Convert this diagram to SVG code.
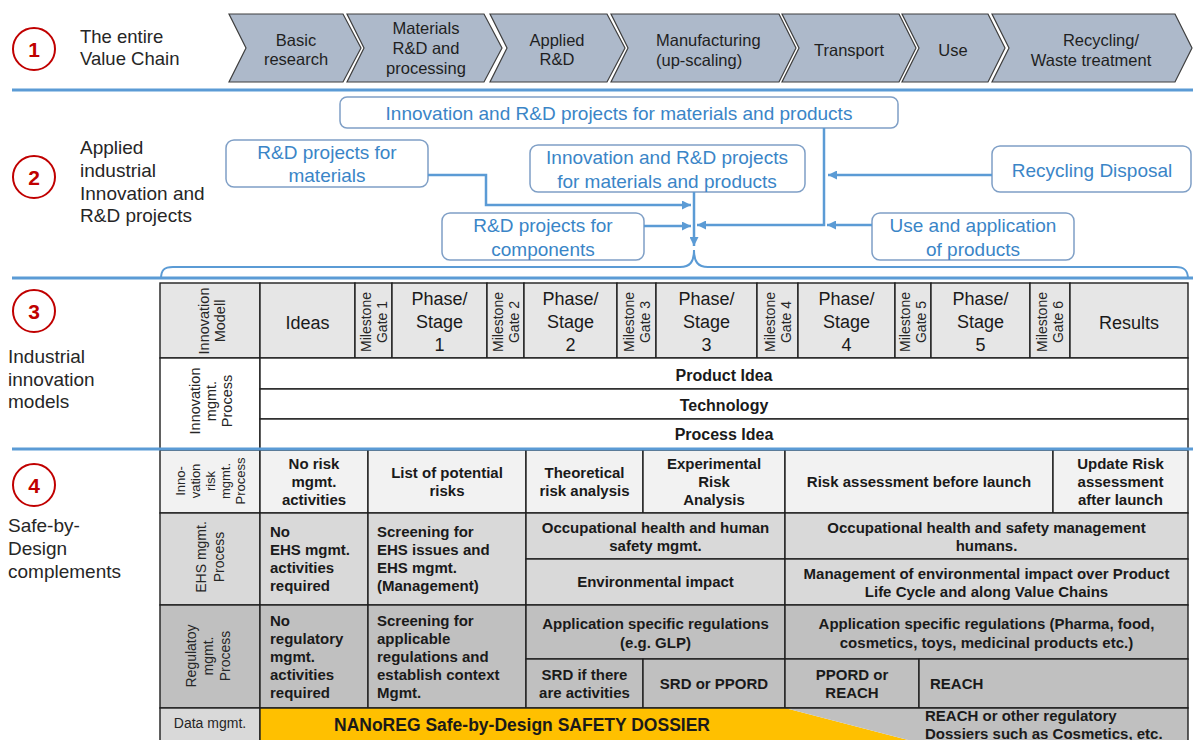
<svg xmlns="http://www.w3.org/2000/svg" width="1193" height="740" viewBox="0 0 1193 740">
<defs>
<style>
text{font-family:"Liberation Sans",Arial,Helvetica,sans-serif}
.sep{stroke:#5b9bd5;stroke-width:3;fill:none}
.chev{fill:#adb9ca;stroke:#3f3f3f;stroke-width:1.2}
.ct{font-size:16.5px;fill:#1f1f1f;text-anchor:middle}
.lbl{font-size:19px;fill:#262626}
.circ{fill:#fff;stroke:#c00000;stroke-width:2}
.num{font-size:21px;font-weight:bold;fill:#c00000;text-anchor:middle}
.box{fill:#fff;stroke:#7f9fc6;stroke-width:1.5}
.bt{font-size:19px;fill:#3a85c7;text-anchor:middle}
.conn{stroke:#5b9bd5;stroke-width:2.5;fill:none}
.brace{stroke:#5b9bd5;stroke-width:2;fill:none}
.cell{stroke:#1f1f1f;stroke-width:1.4}
.g1{fill:#e6e6e6}
.w{fill:#ffffff}
.l1{fill:#f2f2f2}
.l2{fill:#d9d9d9}
.l3{fill:#c0c0c0}
.h{font-size:18px;fill:#1a1a1a;text-anchor:middle}
.rot{font-size:14px;fill:#262626;text-anchor:middle}
.rs{font-size:13px;fill:#262626;text-anchor:middle}
.bm{font-size:16px;font-weight:bold;fill:#1a1a1a;text-anchor:middle}
.b{font-size:15px;font-weight:bold;fill:#1a1a1a;text-anchor:middle}
.bs{font-size:15px;font-weight:bold;fill:#1a1a1a;text-anchor:start}
</style>
<marker id="arr" viewBox="0 0 10 10" refX="10" refY="5" markerWidth="9" markerHeight="9" markerUnits="userSpaceOnUse" orient="auto">
<path d="M0,0 L10,5 L0,10 z" fill="#5b9bd5"/>
</marker>
</defs>
<rect x="0" y="0" width="1193" height="740" fill="#ffffff"/>

<!-- separators -->
<g id="separators">
<line class="sep" x1="12" y1="90" x2="1193" y2="90"/>
<line class="sep" x1="12" y1="278" x2="1193" y2="278"/>
</g>

<!-- Section labels -->
<g id="sec1-label">
<circle class="circ" cx="34" cy="49" r="21"/>
<text class="num" x="34" y="56.5">1</text>
<text class="lbl" x="80" y="42.5" style="font-size:18.5px">The entire</text>
<text class="lbl" x="80" y="64.5" style="font-size:18.5px">Value Chain</text>
</g>
<g id="sec2-label">
<circle class="circ" cx="34" cy="177" r="21"/>
<text class="num" x="34" y="184.5">2</text>
<text class="lbl" x="80" y="154">Applied</text>
<text class="lbl" x="80" y="177">industrial</text>
<text class="lbl" x="80" y="199.5">Innovation and</text>
<text class="lbl" x="80" y="222">R&amp;D projects</text>
</g>
<g id="sec3-label">
<circle class="circ" cx="34" cy="311" r="21"/>
<text class="num" x="34" y="318.5">3</text>
<text class="lbl" x="8" y="363">Industrial</text>
<text class="lbl" x="8" y="385.5">innovation</text>
<text class="lbl" x="8" y="408">models</text>
</g>
<g id="sec4-label">
<circle class="circ" cx="34" cy="485" r="21"/>
<text class="num" x="34" y="492.5">4</text>
<text class="lbl" x="8" y="532">Safe-by-</text>
<text class="lbl" x="8" y="555">Design</text>
<text class="lbl" x="8" y="578">complements</text>
</g>

<!-- Value chain chevrons -->
<g id="chev-basic">
<polygon class="chev" points="229,14 343,14 361,48 343,82 229,82 246,48"/>
<text class="ct" x="296" y="46">Basic</text>
<text class="ct" x="296" y="65">research</text>
</g>
<g id="chev-materials">
<polygon class="chev" points="347,14 484,14 502,48 484,82 347,82 364,48"/>
<text class="ct" x="426" y="34">Materials</text>
<text class="ct" x="426" y="54">R&amp;D and</text>
<text class="ct" x="426" y="74">processing</text>
</g>
<g id="chev-applied">
<polygon class="chev" points="490,14 607,14 625,48 607,82 490,82 507,48"/>
<text class="ct" x="557" y="46">Applied</text>
<text class="ct" x="557" y="65">R&amp;D</text>
</g>
<g id="chev-manufacturing">
<polygon class="chev" points="611,14 779,14 796,48 779,82 611,82 628,48"/>
<text class="ct" x="656" y="46" style="text-anchor:start">Manufacturing</text>
<text class="ct" x="656" y="66" style="text-anchor:start">(up-scaling)</text>
</g>
<g id="chev-transport">
<polygon class="chev" points="782,14 899,14 916,48 899,82 782,82 799,48"/>
<text class="ct" x="849" y="56">Transport</text>
</g>
<g id="chev-use">
<polygon class="chev" points="902,14 988,14 1005,48 988,82 902,82 919,48"/>
<text class="ct" x="953" y="56">Use</text>
</g>
<g id="chev-recycling">
<polygon class="chev" points="992,14 1175,14 1192,48 1175,82 992,82 1009,48"/>
<text class="ct" x="1101" y="46">Recycling/</text>
<text class="ct" x="1091" y="66">Waste treatment</text>
</g>

<!-- Section 2 boxes -->
<g id="box-top">
<rect class="box" x="340" y="97" width="558" height="31" rx="7"/>
<text class="bt" x="619" y="119.5">Innovation and R&amp;D projects for materials and products</text>
</g>
<g id="box-materials">
<rect class="box" x="226" y="140" width="202" height="47" rx="8"/>
<text class="bt" x="327" y="158.5">R&amp;D projects for</text>
<text class="bt" x="327" y="181.5">materials</text>
</g>
<g id="box-middle">
<rect class="box" x="530" y="145" width="275" height="47" rx="8"/>
<text class="bt" x="667" y="163.5">Innovation and R&amp;D projects</text>
<text class="bt" x="667" y="187.5">for materials and products</text>
</g>
<g id="box-components">
<rect class="box" x="442" y="213" width="202" height="47" rx="8"/>
<text class="bt" x="543" y="231.5">R&amp;D projects for</text>
<text class="bt" x="543" y="255.5">components</text>
</g>
<g id="box-recycling">
<rect class="box" x="992" y="146" width="199" height="46" rx="8"/>
<text class="bt" x="1092" y="176.5">Recycling Disposal</text>
</g>
<g id="box-use">
<rect class="box" x="872" y="213" width="202" height="47" rx="8"/>
<text class="bt" x="973" y="231.5">Use and application</text>
<text class="bt" x="973" y="255.5">of products</text>
</g>

<!-- connectors -->
<g id="connectors">
<path class="conn" d="M428,175 H486 V205 H691" marker-end="url(#arr)"/>
<path class="conn" d="M644,226 H691" marker-end="url(#arr)"/>
<path class="conn" d="M694,192 V246" marker-end="url(#arr)"/>
<path class="conn" d="M824,128 V225 H697" marker-end="url(#arr)"/>
<path class="conn" d="M872,225 H827" marker-end="url(#arr)"/>
<path class="conn" d="M992,175 H828" marker-end="url(#arr)"/>
<path class="brace" d="M161,279 C161,270 164,267 173,267 H680 C690,267 694,262 694,250 C694,262 698,267 708,267 H1176 C1184,267 1188,270 1188,279"/>
</g>

<!-- Section 3 table -->
<g id="innovation-model-row">
<rect class="cell g1" x="160" y="283" width="100" height="75"/>
<rect class="cell g1" x="260" y="283" width="95" height="75"/>
<rect class="cell g1" x="355" y="283" width="37" height="75"/>
<rect class="cell g1" x="392" y="283" width="95" height="75"/>
<rect class="cell g1" x="487" y="283" width="37" height="75"/>
<rect class="cell g1" x="524" y="283" width="93" height="75"/>
<rect class="cell g1" x="617" y="283" width="39" height="75"/>
<rect class="cell g1" x="656" y="283" width="101" height="75"/>
<rect class="cell g1" x="757" y="283" width="41" height="75"/>
<rect class="cell g1" x="798" y="283" width="97" height="75"/>
<rect class="cell g1" x="895" y="283" width="36" height="75"/>
<rect class="cell g1" x="931" y="283" width="99" height="75"/>
<rect class="cell g1" x="1030" y="283" width="40" height="75"/>
<rect class="cell g1" x="1070" y="283" width="118" height="75"/>
<text class="rot" transform="translate(212,321) rotate(-90)" style="font-size:14.5px"><tspan x="0" y="-3">Innovation</tspan><tspan x="0" y="13">Modell</tspan></text>
<text class="h" x="307.5" y="328.5">Ideas</text>
<text class="rot" transform="translate(373.5,322) rotate(-90)"><tspan x="0" y="-3">Milestone</tspan><tspan x="0" y="13">Gate 1</tspan></text>
<text class="h" x="439.5" y="304.5">Phase/</text><text class="h" x="439.5" y="327.5">Stage</text><text class="h" x="439.5" y="350.5">1</text>
<text class="rot" transform="translate(505.5,322) rotate(-90)"><tspan x="0" y="-3">Milestone</tspan><tspan x="0" y="13">Gate 2</tspan></text>
<text class="h" x="570.5" y="304.5">Phase/</text><text class="h" x="570.5" y="327.5">Stage</text><text class="h" x="570.5" y="350.5">2</text>
<text class="rot" transform="translate(636.5,322) rotate(-90)"><tspan x="0" y="-3">Milestone</tspan><tspan x="0" y="13">Gate 3</tspan></text>
<text class="h" x="706.5" y="304.5">Phase/</text><text class="h" x="706.5" y="327.5">Stage</text><text class="h" x="706.5" y="350.5">3</text>
<text class="rot" transform="translate(777.5,322) rotate(-90)"><tspan x="0" y="-3">Milestone</tspan><tspan x="0" y="13">Gate 4</tspan></text>
<text class="h" x="846.5" y="304.5">Phase/</text><text class="h" x="846.5" y="327.5">Stage</text><text class="h" x="846.5" y="350.5">4</text>
<text class="rot" transform="translate(913,322) rotate(-90)"><tspan x="0" y="-3">Milestone</tspan><tspan x="0" y="13">Gate 5</tspan></text>
<text class="h" x="980.5" y="304.5">Phase/</text><text class="h" x="980.5" y="327.5">Stage</text><text class="h" x="980.5" y="350.5">5</text>
<text class="rot" transform="translate(1050,322) rotate(-90)"><tspan x="0" y="-3">Milestone</tspan><tspan x="0" y="13">Gate 6</tspan></text>
<text class="h" x="1129" y="328.5">Results</text>
</g>
<g id="innovation-process-rows">
<rect class="cell w" x="160" y="358" width="100" height="91"/>
<rect class="cell w" x="260" y="358" width="928" height="31"/>
<rect class="cell w" x="260" y="389" width="928" height="30"/>
<rect class="cell w" x="260" y="419" width="928" height="30"/>
<text class="rot" transform="translate(211,401) rotate(-90)" style="font-size:14.5px"><tspan x="0" y="-11">Innovation</tspan><tspan x="0" y="5">mgmt.</tspan><tspan x="0" y="21">Process</tspan></text>
<text class="bm" x="724" y="380.5">Product Idea</text>
<text class="bm" x="724" y="410.5">Technology</text>
<text class="bm" x="724" y="439.5">Process Idea</text>
</g>

<!-- Section 4 table -->
<g id="risk-row">
<rect class="cell l1" x="160" y="450" width="100" height="63"/>
<rect class="cell l1" x="260" y="450" width="108" height="63"/>
<rect class="cell l1" x="368" y="450" width="158" height="63"/>
<rect class="cell l1" x="526" y="450" width="117" height="63"/>
<rect class="cell l1" x="643" y="450" width="142" height="63"/>
<rect class="cell l1" x="785" y="450" width="268" height="63"/>
<rect class="cell l1" x="1053" y="450" width="135" height="63"/>
<text class="rs" transform="translate(210,481) rotate(-90)"><tspan x="0" y="-25.5">Inno-</tspan><tspan x="0" y="-10.5">vation</tspan><tspan x="0" y="4.5">risk</tspan><tspan x="0" y="19.5">mgmt.</tspan><tspan x="0" y="34.5">Process</tspan></text>
<text class="b" x="314" y="468.5">No risk</text><text class="b" x="314" y="486.5">mgmt.</text><text class="b" x="314" y="504.5">activities</text>
<text class="b" x="447" y="478">List of potential</text><text class="b" x="447" y="496">risks</text>
<text class="b" x="584.5" y="478">Theoretical</text><text class="b" x="584.5" y="496">risk analysis</text>
<text class="b" x="714" y="468.5">Experimental</text><text class="b" x="714" y="486.5">Risk</text><text class="b" x="714" y="504.5">Analysis</text>
<text class="b" x="919" y="487">Risk assessment before launch</text>
<text class="b" x="1120.5" y="468.5">Update Risk</text><text class="b" x="1120.5" y="486.5">assessment</text><text class="b" x="1120.5" y="504.5">after launch</text>
</g>
<g id="ehs-row">
<rect class="cell l2" x="160" y="513" width="100" height="92"/>
<rect class="cell l2" x="260" y="513" width="108" height="92"/>
<rect class="cell l2" x="368" y="513" width="158" height="92"/>
<rect class="cell l2" x="526" y="513" width="259" height="46"/>
<rect class="cell l2" x="526" y="559" width="259" height="46"/>
<rect class="cell l2" x="785" y="513" width="403" height="46"/>
<rect class="cell l2" x="785" y="559" width="403" height="46"/>
<text class="rot" transform="translate(210,557) rotate(-90)"><tspan x="0" y="-4">EHS mgmt.</tspan><tspan x="0" y="14">Process</tspan></text>
<text class="bs" x="270" y="537">No</text><text class="bs" x="270" y="555">EHS mgmt.</text><text class="bs" x="270" y="573">activities</text><text class="bs" x="270" y="591">required</text>
<text class="bs" x="377" y="537">Screening for</text><text class="bs" x="377" y="555">EHS issues and</text><text class="bs" x="377" y="573">EHS mgmt.</text><text class="bs" x="377" y="591">(Management)</text>
<text class="b" x="655.5" y="533">Occupational health and human</text><text class="b" x="655.5" y="551">safety mgmt.</text>
<text class="b" x="655.5" y="587">Environmental impact</text>
<text class="b" x="986.5" y="533">Occupational health and safety management</text><text class="b" x="986.5" y="551">humans.</text>
<text class="b" x="986.5" y="579">Management of environmental impact over Product</text><text class="b" x="986.5" y="597">Life Cycle and along Value Chains</text>
</g>
<g id="regulatory-row">
<rect class="cell l3" x="160" y="605" width="100" height="103"/>
<rect class="cell l3" x="260" y="605" width="108" height="103"/>
<rect class="cell l3" x="368" y="605" width="158" height="103"/>
<rect class="cell l3" x="526" y="605" width="259" height="54"/>
<rect class="cell l3" x="526" y="659" width="117" height="49"/>
<rect class="cell l3" x="643" y="659" width="142" height="49"/>
<rect class="cell l3" x="785" y="605" width="403" height="54"/>
<rect class="cell l3" x="785" y="659" width="134" height="49"/>
<rect class="cell l3" x="919" y="659" width="269" height="49"/>
<text class="rot" transform="translate(208,656) rotate(-90)"><tspan x="0" y="-12">Regulatoy</tspan><tspan x="0" y="5">mgmt.</tspan><tspan x="0" y="22">Process</tspan></text>
<text class="bs" x="270" y="625.5">No</text><text class="bs" x="270" y="643.5">regulatory</text><text class="bs" x="270" y="661.5">mgmt.</text><text class="bs" x="270" y="679.5">activities</text><text class="bs" x="270" y="697.5">required</text>
<text class="bs" x="377" y="625.5">Screening for</text><text class="bs" x="377" y="643.5">applicable</text><text class="bs" x="377" y="661.5">regulations and</text><text class="bs" x="377" y="679.5">establish context</text><text class="bs" x="377" y="697.5">Mgmt.</text>
<text class="b" x="655.5" y="629">Application specific regulations</text><text class="b" x="655.5" y="647.5">(e.g. GLP)</text>
<text class="b" x="584.5" y="680">SRD if there</text><text class="b" x="584.5" y="698">are activities</text>
<text class="b" x="714" y="689">SRD or PPORD</text>
<text class="b" x="986.5" y="629">Application specific regulations (Pharma, food,</text><text class="b" x="986.5" y="647.5">cosmetics, toys, medicinal products etc.)</text>
<text class="b" x="852" y="680">PPORD or</text><text class="b" x="852" y="698">REACH</text>
<text class="bs" x="930" y="689">REACH</text>
</g>
<g id="data-row">
<rect class="cell l2" x="160" y="708" width="100" height="40"/>
<polygon points="260,708 785,708 908,740 260,740" fill="#ffc000"/>
<polygon points="785,708 1188,708 1188,740 908,740" fill="#c0c0c0"/>
<polyline points="260,748 260,708 1188,708 1188,748" fill="none" stroke="#1f1f1f" stroke-width="1.4"/>
<text x="210" y="728" style="font-size:14px;fill:#262626;text-anchor:middle">Data mgmt.</text>
<text x="522" y="731" style="font-size:17.5px;font-weight:bold;fill:#1a1a1a;text-anchor:middle">NANoREG Safe-by-Design SAFETY DOSSIER</text>
<text class="bs" x="925" y="721">REACH or other regulatory</text>
<text class="bs" x="925" y="739">Dossiers such as Cosmetics, etc.</text>
</g>
<g id="separator-3">
<line class="sep" x1="12" y1="449" x2="1193" y2="449"/>
</g>
</svg>
